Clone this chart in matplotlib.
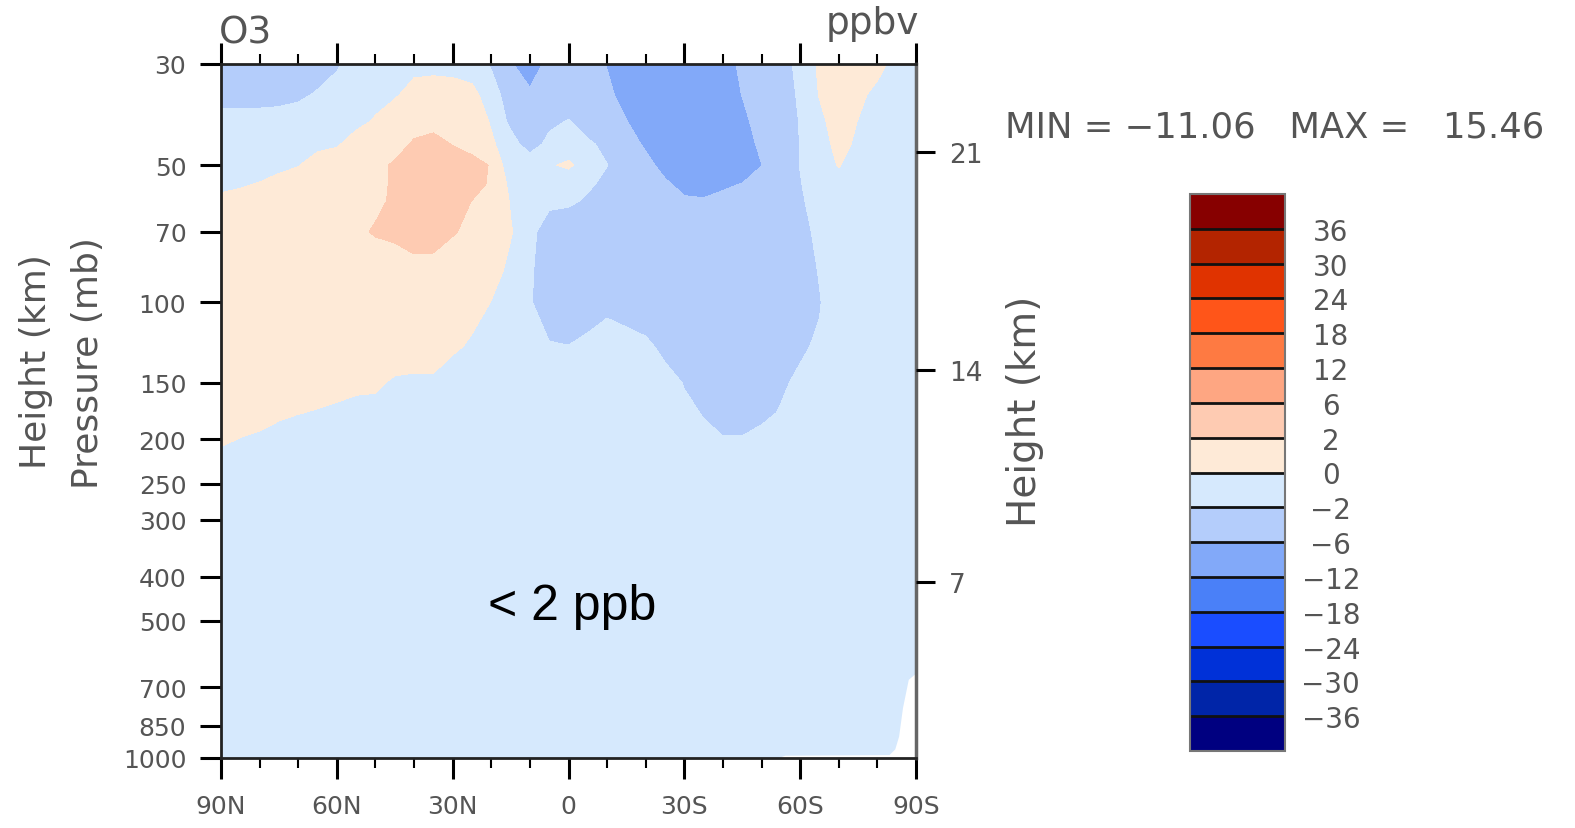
import numpy as np
import matplotlib
matplotlib.use("Agg")
import matplotlib.pyplot as plt
from matplotlib.colors import ListedColormap, BoundaryNorm
from matplotlib.ticker import FixedLocator, NullLocator

# zonal mean O3 difference (ppbv), latitude 90N -> 90S, pressure levels (mb)
lats = [90, 85, 80, 75, 70, 65, 60, 55, 50, 45, 40, 35, 30, 25, 20, 15, 10, 5, 0,
        -5, -10, -15, -20, -25, -30, -35, -40, -45, -50, -55, -60, -65, -70, -75, -80, -85, -90]
plevs = [30, 35, 40, 45, 50, 55, 60, 70, 85, 100, 125, 150, 175, 200, 250, 1000]

o3_030 = [-3.5, -3.5, -3.5, -3.2, -3.0, -2.7, -2.3, -0.8, -0.8, -0.6,
          -0.7, -0.7, -0.9, -1.0, -2.2, -5.5, -9.0, -4.4, -4.0, -4.0,
          -6.2, -8.0, -9.0, -9.0, -9.0, -8.5, -7.5, -5.3, -4.0, -3.0,
          -1.3, 0.3, 1.2, 1.2, 0.8, -0.9, -1.0]
o3_035 = [-3.0, -3.0, -3.0, -2.8, -2.3, -1.85, -1.0, -0.8, -0.5, -0.3,
          0.9, 1.2, 1.2, 0.6, -1.1, -3.0, -5.0, -4.0, -3.5, -4.0,
          -5.0, -7.7, -9.0, -9.5, -9.5, -9.0, -8.0, -5.9, -4.0, -3.0,
          -1.7, 0.1, 1.0, 0.6, -0.7, -1.0, -1.0]
o3_040 = [-1.0, -1.0, -1.0, -1.0, -1.2, -0.8, -0.7, -0.5, 0.15, 1.5,
          1.7, 1.6, 1.8, 1.2, -0.2, -2.5, -3.5, -2.5, -1.9, -3.2,
          -4.5, -5.9, -8.5, -9.5, -10.0, -9.5, -8.5, -7.0, -4.3, -3.0,
          -1.9, -0.5, 1.0, -0.05, -1.0, -1.0, -1.0]
o3_045 = [-1.0, -1.0, -1.0, -0.8, -0.7, -0.5, -0.2, 0.8, 1.2, 1.7,
          2.1, 2.4, 1.95, 1.5, 0.3, -1.1, -3.0, -1.4, -1.0, -1.6,
          -2.6, -4.5, -6.5, -9.0, -10.0, -10.0, -9.0, -8.0, -5.1, -3.2,
          -1.95, -1.0, 0.7, -0.4, -1.0, -1.0, -1.0]
o3_050 = [-1.0, -1.0, -0.9, -0.6, -0.1, 0.9, 1.2, 1.5, 1.8, 2.1,
          2.8, 3.0, 2.8, 2.5, 1.9, -1.4, -0.5, -0.2, 0.3, -0.9,
          -1.95, -4.0, -5.0, -7.1, -9.0, -9.5, -9.5, -8.5, -6.1, -3.0,
          -1.95, -0.8, 0.1, -0.8, -1.0, -1.0, -1.0]
o3_055 = [-0.3, -0.2, 0.1, 0.8, 1.0, 1.2, 1.4, 1.6, 1.8, 2.1,
          3.2, 3.5, 3.3, 2.8, 1.7, -0.45, -1.0, -1.2, -1.2, -1.6,
          -2.6, -3.5, -4.5, -5.5, -7.0, -8.0, -6.6, -5.9, -4.0, -3.0,
          -2.1, -1.0, -0.8, -0.8, -1.0, -1.0, -1.0]
o3_060 = [0.3, 0.6, 0.8, 1.0, 1.2, 1.3, 1.5, 1.6, 1.8, 2.15,
          3.2, 3.6, 3.0, 1.95, 1.2, -0.1, -1.0, -1.2, -1.5, -2.4,
          -3.0, -3.5, -4.0, -4.8, -5.5, -5.5, -5.0, -5.0, -4.0, -3.0,
          -2.3, -1.1, -1.0, -1.0, -1.0, -1.0, -1.0]
o3_070 = [1.0, 1.1, 1.2, 1.3, 1.4, 1.5, 1.6, 1.8, 2.1, 2.3,
          3.0, 2.9, 2.1, 1.7, 0.9, 0.1, -0.9, -4.0, -4.2, -4.3,
          -4.5, -4.5, -4.5, -4.5, -4.5, -4.5, -4.5, -4.2, -4.0, -3.5,
          -2.8, -1.4, -1.0, -1.0, -1.0, -1.0, -1.0]
o3_085 = [1.2, 1.2, 1.3, 1.3, 1.3, 1.3, 1.3, 1.3, 1.3, 1.2,
          1.2, 1.2, 1.2, 1.0, 0.6, -0.35, -1.7, -3.2, -4.0, -4.2,
          -4.2, -4.2, -4.2, -4.2, -4.2, -4.2, -4.2, -4.0, -3.8, -3.5,
          -2.8, -1.9, -1.0, -1.0, -1.0, -1.0, -1.0]
o3_100 = [1.2, 1.2, 1.2, 1.2, 1.2, 1.2, 1.2, 1.2, 1.2, 1.2,
          1.1, 1.1, 1.0, 0.8, -0.05, -1.0, -1.85, -3.0, -3.5, -3.0,
          -2.5, -2.8, -3.2, -3.8, -4.0, -4.0, -4.0, -4.0, -3.8, -3.4,
          -2.6, -2.1, -1.0, -1.0, -1.0, -1.0, -1.0]
o3_125 = [1.1, 1.1, 1.1, 1.1, 1.1, 1.0, 1.0, 1.0, 1.0, 1.0,
          0.9, 0.8, 0.4, -0.35, -1.0, -1.1, -1.4, -1.85, -1.95, -1.5,
          -1.0, -1.3, -1.6, -2.5, -2.8, -3.2, -3.3, -3.2, -3.0, -2.6,
          -2.2, -1.8, -1.2, -1.0, -1.0, -1.0, -1.0]
o3_150 = [1.0, 1.0, 0.9, 0.9, 0.8, 0.7, 0.6, 0.5, 0.3, -0.25,
          -0.35, -0.3, -1.4, -1.2, -1.1, -1.1, -1.1, -1.2, -1.2, -1.2,
          -1.2, -1.2, -1.3, -1.3, -2.1, -2.8, -3.0, -3.0, -2.6, -2.2,
          -1.75, -1.3, -1.0, -1.0, -1.0, -1.0, -1.0]
o3_175 = [0.7, 0.6, 0.5, 0.4, 0.05, -0.13, -0.35, -0.75, -0.6, -0.8,
          -1.0, -1.0, -1.0, -1.0, -1.0, -1.0, -1.0, -1.0, -1.0, -1.0,
          -1.0, -1.1, -1.2, -1.3, -1.6, -2.1, -2.6, -2.6, -2.3, -1.9,
          -1.5, -1.1, -1.0, -1.0, -1.0, -1.0, -1.0]
o3_200 = [0.2, -0.05, -0.25, -1.0, -1.2, -1.2, -1.1, -1.0, -1.0, -1.0,
          -1.0, -1.0, -1.0, -1.0, -1.0, -1.0, -1.0, -1.0, -1.0, -1.0,
          -1.0, -1.0, -1.0, -1.1, -1.3, -1.6, -1.9, -1.9, -1.6, -1.2,
          -1.0, -1.0, -1.0, -1.0, -1.0, -1.0, -1.0]
o3_250 = [-1.2, -1.1, -1.0, -1.0, -1.0, -1.0, -1.0, -1.0, -1.0, -1.0,
          -1.0, -1.0, -1.0, -1.0, -1.0, -1.0, -1.0, -1.0, -1.0, -1.0,
          -1.0, -1.0, -1.0, -1.0, -1.0, -1.0, -1.0, -1.0, -1.0, -1.0,
          -1.0, -1.0, -1.0, -1.0, -1.0, -1.0, -1.0]
o3_1000 = [-1.0, -1.0, -1.0, -1.0, -1.0, -1.0, -1.0, -1.0, -1.0, -1.0,
           -1.0, -1.0, -1.0, -1.0, -1.0, -1.0, -1.0, -1.0, -1.0, -1.0,
           -1.0, -1.0, -1.0, -1.0, -1.0, -1.0, -1.0, -1.0, -1.0, -1.0,
           -1.0, -1.0, -1.0, -1.0, -1.0, -1.0, -1.0]

# surface pressure over Antarctica (below ground -> blank)
sfc_lats = [-54, -56, -83, -84.5, -85.5, -86.5, -88, -90]
sfc_pres = [1000, 986, 983, 955, 895, 775, 672, 650]

levels = [-36, -30, -24, -18, -12, -6, -2, 0, 2, 6, 12, 18, 24, 30, 36]
level_labels = ["\u221236", "\u221230", "\u221224", "\u221218", "\u221212", "\u22126", "\u22122",
                "0", "2", "6", "12", "18", "24", "30", "36"]
colors = ["#0025A8", "#0031D8", "#1A4DFF", "#4A80F8", "#82A9F9", "#B4CDFB", "#D6E9FD",
          "#FEEAD7", "#FECBB2", "#FEA682", "#FE7A42", "#FF5519", "#E03300", "#B32400"]
color_under = "#000080"
color_over = "#870000"

ptick = [30, 50, 70, 100, 150, 200, 250, 300, 400, 500, 700, 850, 1000]
lat_ticks = [90, 60, 30, 0, -30, -60, -90]
lat_labels = ["90N", "60N", "30N", "0", "30S", "60S", "90S"]
height_ticks = [7, 14, 21]

o3 = np.array([o3_030, o3_035, o3_040, o3_045, o3_050, o3_055, o3_060, o3_070,
               o3_085, o3_100, o3_125, o3_150, o3_175, o3_200, o3_250, o3_1000])


def height_to_p(z_km):
    # US standard atmosphere
    z = z_km * 1000.0
    if z <= 11000:
        return 1013.25 * (1 - 2.25577e-5 * z) ** 5.25588
    if z <= 20000:
        return 226.32 * np.exp(-(z - 11000) / 6341.6)
    return 54.749 * (1 + (z - 20000) / 216650.0) ** (-34.1632)


gray = "#555555"
W, H = 1575, 829
fig = plt.figure(figsize=(W / 100, H / 100), dpi=100)
ax = fig.add_axes([221 / W, 1 - 759 / H, 695 / W, 694 / H])

cmap = ListedColormap(colors)
cmap.set_under(color_under)
cmap.set_over(color_over)
norm = BoundaryNorm(levels, cmap.N)

cf = ax.contourf(lats, plevs, o3, levels=levels, cmap=cmap, norm=norm, extend="both")
ax.fill_between(sfc_lats, sfc_pres, 1000, color="white", lw=0, zorder=2)

ax.set_yscale("log")
ax.set_ylim(1000, 30)
ax.set_xlim(90, -90)

ax.set_yticks(ptick)
ax.set_yticklabels([str(p) for p in ptick])
ax.yaxis.set_minor_locator(NullLocator())
ax.set_xticks(lat_ticks)
ax.set_xticklabels(lat_labels)
ax.xaxis.set_minor_locator(FixedLocator(np.arange(-90, 91, 10)))

ax.tick_params(axis="x", which="major", top=True, bottom=True, direction="out",
               length=15, width=2.2, labelsize=18, labelcolor=gray, pad=11)
ax.tick_params(axis="x", which="minor", top=True, bottom=True, direction="out",
               length=7, width=1.5)
ax.tick_params(axis="y", which="major", left=True, right=False, direction="out",
               length=15, width=2.2, labelsize=18, labelcolor=gray, pad=10)
for side in ["left", "top", "bottom"]:
    ax.spines[side].set_linewidth(2)
    ax.spines[side].set_color("#222222")
ax.spines["right"].set_linewidth(2.5)
ax.spines["right"].set_color("#666666")

ax2 = ax.twinx()
ax2.set_yscale("log")
ax2.set_ylim(1000, 30)
ax2.set_yticks([height_to_p(z) for z in height_ticks])
ax2.set_yticklabels([str(z) for z in height_ticks])
ax2.yaxis.set_minor_locator(NullLocator())
ax2.tick_params(axis="y", which="major", direction="out", length=14, width=2.2,
                labelsize=19, labelcolor=gray, pad=10)
for s in ax2.spines.values():
    s.set_visible(False)

# labels and titles
fig.text(219 / W, 1 - 43 / H, "O3", fontsize=27, color=gray, ha="left", va="baseline")
fig.text(919 / W, 1 - 34 / H, "ppbv", fontsize=27, color=gray, ha="right", va="baseline")
fig.text(36 / W, 1 - 362 / H, "Height (km)", fontsize=26, color=gray, rotation=90,
         ha="center", va="center")
fig.text(88 / W, 1 - 363 / H, "Pressure (mb)", fontsize=26, color=gray, rotation=90,
         ha="center", va="center")
fig.text(1025 / W, 1 - 411 / H, "Height (km)", fontsize=28, color=gray, rotation=90,
         ha="center", va="center")
fig.text(1005 / W, 1 - 137 / H, "MIN = \u221211.06   MAX =   15.46", fontsize=25.5,
         color=gray, ha="left", va="baseline")
fig.text(572 / W, 1 - 620 / H, "< 2 ppb", fontsize=36, color="black",
         family="Liberation Sans", ha="center", va="baseline")

# colorbar
cax = fig.add_axes([1190 / W, 1 - 752 / H, 95 / W, 557 / H])
cb = fig.colorbar(cf, cax=cax, orientation="vertical", extend="both", extendrect=True,
                  extendfrac=1 / 14, drawedges=True)
cb.set_ticks(levels)
cb.set_ticklabels(level_labels)
cb.outline.set_edgecolor("#777777")
cb.outline.set_linewidth(1.5)
cb.dividers.set_color("#111111")
cb.dividers.set_linewidth(2)
cax.tick_params(length=0, labelsize=20, labelcolor=gray, pad=33)
for lab in cax.get_yticklabels():
    lab.set_horizontalalignment("center")

fig.savefig("out.png", dpi=100)
